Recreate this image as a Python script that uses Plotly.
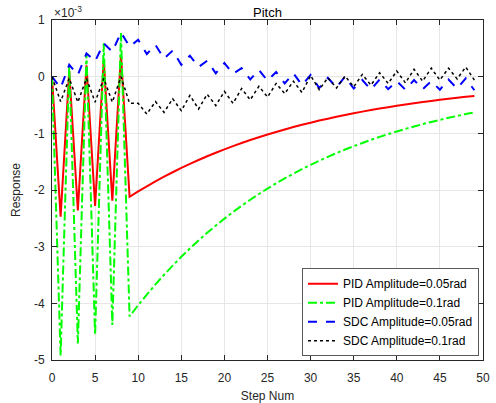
import plotly.graph_objects as go

steps = list(range(50))

pid_005 = [0.0, -2.47, 0.10, -2.36, 0.20, -2.28, 0.29, -2.19, 0.38, -2.120,
           -2.025, -1.935, -1.848, -1.766, -1.687, -1.611, -1.539, -1.471, -1.405, -1.342,
           -1.282, -1.225, -1.170, -1.118, -1.068, -1.020, -0.975, -0.931, -0.889, -0.850,
           -0.812, -0.775, -0.741, -0.708, -0.676, -0.646, -0.617, -0.589, -0.563, -0.538,
           -0.514, -0.491, -0.469, -0.448, -0.428, -0.409, -0.390, -0.373, -0.356, -0.340]

pid_01 = [0.0, -4.92, 0.21, -4.71, 0.41, -4.56, 0.59, -4.38, 0.77, -4.230,
          -4.033, -3.846, -3.667, -3.496, -3.334, -3.179, -3.031, -2.890, -2.756, -2.628,
          -2.505, -2.389, -2.278, -2.172, -2.071, -1.975, -1.883, -1.795, -1.712, -1.632,
          -1.556, -1.484, -1.415, -1.349, -1.286, -1.227, -1.170, -1.115, -1.063, -1.014,
          -0.967, -0.922, -0.879, -0.838, -0.799, -0.762, -0.726, -0.693, -0.660, -0.630]

sdc_005 = [0.0, -0.20, 0.21, 0.03, 0.41, 0.27, 0.59, 0.44, 0.78, 0.53,
           0.65, 0.40, 0.56, 0.32, 0.46, 0.21, 0.37, 0.17, 0.28, 0.06,
           0.24, 0.05, 0.15, -0.05, 0.12, -0.07, 0.08, -0.12, 0.06, -0.15,
           0.03, -0.20, -0.02, -0.19, 0.00, -0.21, -0.06, -0.23, -0.05, -0.22,
           -0.08, -0.23, -0.06, -0.22, -0.08, -0.23, -0.05, -0.21, -0.03, -0.24]

sdc_01 = [0.0, -0.44, -0.03, -0.45, -0.03, -0.45, -0.03, -0.45, 0.00, -0.47,
          -0.47, -0.66, -0.44, -0.63, -0.39, -0.60, -0.33, -0.57, -0.31, -0.51,
          -0.26, -0.47, -0.21, -0.41, -0.17, -0.36, -0.12, -0.30, -0.08, -0.28,
          0.02, -0.23, -0.02, -0.20, 0.01, -0.18, 0.04, -0.15, 0.07, -0.12,
          0.10, -0.11, 0.13, -0.08, 0.15, -0.06, 0.15, -0.04, 0.17, -0.06]

x_tick_vals = [0, 5, 10, 15, 20, 25, 30, 35, 40, 45, 50]
y_tick_vals = [1, 0, -1, -2, -3, -4, -5]
y_tick_text = ["1", "0", "-1", "-2", "-3", "-4", "-5"]

font_family = "Liberation Sans, Arial, sans-serif"
axis_color = "#262626"

fig = go.Figure()
fig.add_trace(go.Scatter(x=steps, y=pid_005, mode="lines", name="PID Amplitude=0.05rad",
                         line=dict(color="#FF0000", width=2, simplify=False)))
fig.add_trace(go.Scatter(x=steps, y=pid_01, mode="lines", name="PID Amplitude=0.1rad",
                         line=dict(color="#00FF00", width=2, dash="dashdot", simplify=False)))
fig.add_trace(go.Scatter(x=steps, y=sdc_005, mode="lines", name="SDC Amplitude=0.05rad",
                         line=dict(color="#0000FF", width=2, dash="dash", simplify=False)))
fig.add_trace(go.Scatter(x=steps, y=sdc_01, mode="lines", name="SDC Amplitude=0.1rad",
                         line=dict(color="#000000", width=1.5, dash="dot", simplify=False)))

axis_common = dict(
    showline=True, linecolor=axis_color, linewidth=1, mirror="allticks",
    ticks="inside", ticklen=5, tickcolor=axis_color, automargin=False,
    showgrid=True, gridcolor="#e6e6e6", gridwidth=1, zeroline=False,
    tickfont=dict(family=font_family, size=12, color=axis_color),
)

fig.update_xaxes(range=[0, 50], tickvals=x_tick_vals, ticklabelstandoff=7,
                 title=dict(text="Step Num", font=dict(family=font_family, size=12, color=axis_color), standoff=7),
                 **axis_common)
fig.update_yaxes(range=[-5, 1], tickvals=y_tick_vals, ticktext=y_tick_text, ticklabelstandoff=4,
                 title=dict(text="Response", font=dict(family=font_family, size=12, color=axis_color), standoff=10),
                 **axis_common)

fig.update_layout(
    width=496, height=403,
    margin=dict(l=52, r=13, t=20, b=43, autoexpand=False),
    paper_bgcolor="white", plot_bgcolor="white",
    font=dict(family=font_family, size=12, color=axis_color),
    title=dict(text="Pitch", x=0.5, xref="paper", xanchor="center", y=1, yref="paper", yanchor="bottom",
               pad=dict(b=3),
               font=dict(family=font_family, size=13, color="#000000")),
    showlegend=True,
    legend=dict(x=0.58, y=0.27, xanchor="left", yanchor="top",
                bgcolor="white", bordercolor="#5a5a5a", borderwidth=1,
                font=dict(family=font_family, size=12, color="#000000"),
                tracegroupgap=0, itemwidth=30),
    annotations=[dict(text="\u00d710<sup>-3</sup>", xref="paper", yref="paper", x=0, y=1,
                      xanchor="left", yanchor="bottom", showarrow=False, yshift=-2,
                      font=dict(family=font_family, size=12, color=axis_color))],
)

fig.write_html("out.html")
